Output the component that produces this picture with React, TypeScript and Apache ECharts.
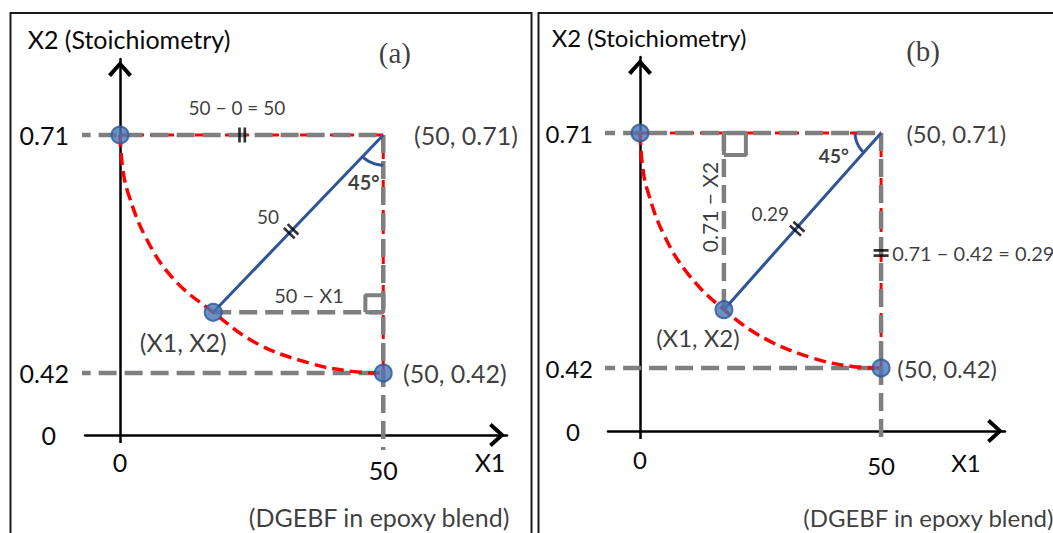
import React, { useEffect, useRef } from 'react';
import * as echarts from 'echarts';

// ---------------- data ----------------
const X_TICKS = [0, 50];
const Y_TICKS = [0.42, 0.71];
const START: [number, number] = [0, 0.71];
const CORNER: [number, number] = [50, 0.71];
const END: [number, number] = [50, 0.42];
const PT_A: [number, number] = [17.7, 0.494];
const PT_B: [number, number] = [17.4, 0.492];

// dashed red arc
const ARC_A = [[0, 0.71], [0.5, 0.67], [1.5, 0.64], [4.9, 0.585], [10.1, 0.535], [17.7, 0.494], [26, 0.456], [36, 0.432], [44, 0.422], [50, 0.42]];
const ARC_B = [[0, 0.71], [0.5, 0.67], [1.5, 0.64], [4.9, 0.585], [10.1, 0.535], [17.4, 0.492], [26, 0.456], [36, 0.432], [44, 0.422], [50, 0.42]];

// 45° angle marks
const ANGLE_A = [[46.05, 0.6837], [46.9, 0.6793], [47.87, 0.6761], [48.91, 0.6741], [50, 0.6734]];
const ANGLE_B = [[44.61, 0.71], [44.73, 0.7033], [45.08, 0.697], [45.64, 0.6911], [46.42, 0.686]];

// gray guide lines
const GUIDE_TOP_A = [[-9.0, 0.71], [50, 0.71]];
const GUIDE_LOW_A = [[-9.0, 0.42], [50, 0.42]];
const GUIDE_RIGHT_A = [[50, 0.71], [50, 0.3262]];
const GUIDE_MID_A = [[17.7, 0.494], [50, 0.494]];
const SQUARE_A = [[46.6, 0.494], [46.6, 0.5147], [50, 0.5147], [50, 0.494], [46.6, 0.494]];

const GUIDE_TOP_B = [[-8.9, 0.71], [50, 0.71]];
const GUIDE_LOW_B = [[-8.9, 0.42], [50, 0.42]];
const GUIDE_RIGHT_B = [[50, 0.71], [50, 0.325]];
const GUIDE_MID_B = [[17.4, 0.71], [17.4, 0.492]];
const SQUARE_B = [[17.4, 0.6828], [21.96, 0.6828], [21.96, 0.71], [17.4, 0.71], [17.4, 0.6828]];

// equal-length marks: [x, y, rotation]
const MARKS_A = [[23.2, 0.71, 0], [32.5, 0.5927, 46]];
const MARKS_B = [[32.6, 0.592, 48], [50, 0.5619, 90]];

// texts
const Y_NAME = 'X2 (Stoichiometry)';
const X_NAME = 'X1';
const LABELS_A = ['50 − 0 = 50', '(50, 0.71)', '45°', '50', '50 − X1', '(X1, X2)', '(50, 0.42)', '(DGEBF in epoxy blend)', '(a)'];
const LABELS_B = ['(b)', '(50, 0.71)', '45°', '0.71 − X2', '0.29', '0.71 − 0.42 = 0.29', '(X1, X2)', '(50, 0.42)', '(DGEBF in epoxy blend)'];

// axis ranges
const AX_A = { xMin: -6.65, xMax: 73.5, yMin: 0.3445, yMax: 0.8026 };
const AX_B = { xMin: -6.64, xMax: 75.7, yMin: 0.3423, yMax: 0.8038 };

// ---------------- styles ----------------
const FONT = 'Lato, "Open Sans", sans-serif';
const SERIF = '"Liberation Serif", "DejaVu Serif", serif';
const TXT = '#0a0a0a';
const GRAY = '#7f7f7f';
const RED = '#ff0000';
const BLUE = '#2f5597';
const CHEVRON = 'path://M10,0L20,11L17.4,13.2L10,4.8L2.6,13.2L0,11Z';
const BARS = 'path://M0,0H3V16H0ZM6,0H9V16H6Z';

function line(gi: number, data: number[][], color: string, width: number, dash: any, z: number, smooth: any = false) {
  return {
    type: 'line', xAxisIndex: gi, yAxisIndex: gi, data, symbol: 'none', clip: false, silent: true,
    smooth, z, animation: false,
    lineStyle: { color, width, type: dash, cap: 'butt' },
  };
}

function texts(gi: number, items: any[]) {
  return {
    type: 'scatter', xAxisIndex: gi, yAxisIndex: gi, clip: false, silent: true, z: 20,
    symbolSize: 1, itemStyle: { color: 'rgba(0,0,0,0)' },
    data: items.map((it) => ({
      value: it.at,
      label: {
        show: true, position: 'inside', formatter: it.t, color: TXT,
        fontFamily: it.serif ? SERIF : FONT, fontSize: it.fs, fontWeight: it.bold ? 'bold' : 'normal',
        align: it.align || 'center', verticalAlign: 'middle', rotate: it.rotate || 0,
      },
    })),
  };
}

function marks(gi: number, data: number[][]) {
  return {
    type: 'scatter', xAxisIndex: gi, yAxisIndex: gi, clip: false, silent: true, z: 15,
    symbol: BARS,
    data: data.map((m) => ({ value: [m[0], m[1]], symbolRotate: m[2] })),
    symbolSize: [8, 15],
    itemStyle: { color: '#000' },
  };
}

function points(gi: number, pt: number[]) {
  return {
    type: 'scatter', xAxisIndex: gi, yAxisIndex: gi, clip: false, silent: true, z: 16,
    data: [START, pt, END], symbolSize: 17,
    itemStyle: { color: '#4a76b4', borderColor: '#2f5597', borderWidth: 2 },
  };
}

function xAxis(gi: number, ax: any, margin: number, pad50: number) {
  return {
    type: 'value', gridIndex: gi, min: ax.xMin, max: ax.xMax,
    name: X_NAME, nameLocation: 'end', nameGap: gi === 0 ? -17 : -39,
    nameTextStyle: { fontFamily: FONT, fontSize: gi === 0 ? 25 : 24, color: TXT, align: 'center', verticalAlign: 'top', padding: [gi === 0 ? 14 : 19, 0, 0, 0] },
    axisLine: { onZero: false, lineStyle: { color: '#000', width: 2.5 }, symbol: ['none', CHEVRON], symbolSize: [24, 20], symbolOffset: [0, -10] },
    axisTick: { show: true, customValues: [0], length: 8, lineStyle: { color: '#000', width: 2.5 } },
    axisLabel: {
      customValues: X_TICKS, margin, fontFamily: FONT, fontSize: gi === 0 ? 25 : 24, color: TXT,
      formatter: (v: number) => (v === 50 ? '{b|50}' : '{a|' + v + '}'),
      rich: { a: {}, b: { padding: [pad50, 0, 0, 0] } },
    },
    splitLine: { show: false },
  };
}

function yAxis(gi: number, ax: any, margin: number) {
  return {
    type: 'value', gridIndex: gi, min: ax.yMin, max: ax.yMax,
    name: Y_NAME, nameLocation: 'end', nameGap: 8,
    nameTextStyle: { fontFamily: FONT, fontSize: gi === 0 ? 25 : 24, color: TXT, align: 'center', verticalAlign: 'bottom', padding: [0, 0, 0, 18] },
    axisLine: { onZero: true, lineStyle: { color: '#000', width: 2.5 }, symbol: ['none', CHEVRON], symbolSize: [24, 20], symbolOffset: [0, -10] },
    axisTick: { show: false },
    axisLabel: {
      customValues: [ax.yMin, ...Y_TICKS], margin, fontFamily: FONT, fontSize: gi === 0 ? 25 : 24, color: TXT,
      formatter: (v: number) => (Math.abs(v - ax.yMin) < 1e-6 ? '{z|0}' : '{n|' + v.toFixed(2) + '}'),
      rich: { z: { padding: [0, 13, 0, 0] }, n: {} },
    },
    splitLine: { show: false },
  };
}

export default function App() {
  const ref = useRef<HTMLDivElement>(null);
  useEffect(() => {
    if (!ref.current) return;
    const chart = echarts.init(ref.current, undefined, { renderer: 'svg' });
    const dashG = [18, 8];
    const dashR = [9, 6];
    const dashArc = [12, 6];
    const textA = [
      { t: LABELS_A[0], at: [22.2, 0.7441], fs: 19 },
      { t: LABELS_A[1], at: [65.7, 0.71], fs: 25 },
      { t: LABELS_A[2], at: [46.3, 0.6527], fs: 20, bold: true },
      { t: LABELS_A[3], at: [28.1, 0.6113], fs: 19 },
      { t: LABELS_A[4], at: [35.9, 0.515], fs: 20 },
      { t: LABELS_A[5], at: [12.0, 0.4578], fs: 25 },
      { t: LABELS_A[6], at: [63.6, 0.42], fs: 25 },
      { t: LABELS_A[7], at: [49.2, 0.2445], fs: 25 },
      { t: LABELS_A[8], at: [52.2, 0.8099], fs: 29, serif: true },
    ];
    const textB = [
      { t: LABELS_B[0], at: [58.7, 0.8112], fs: 29, serif: true },
      { t: LABELS_B[1], at: [65.6, 0.71], fs: 24 },
      { t: LABELS_B[2], at: [40.2, 0.6828], fs: 19, bold: true },
      { t: LABELS_B[3], at: [14.5, 0.6187], fs: 21, rotate: 90 },
      { t: LABELS_B[4], at: [27.0, 0.6113], fs: 19 },
      { t: LABELS_B[5], at: [52.3, 0.5619], fs: 20, align: 'left' },
      { t: LABELS_B[6], at: [12.0, 0.4582], fs: 24 },
      { t: LABELS_B[7], at: [63.7, 0.42], fs: 24 },
      { t: LABELS_B[8], at: [59.8, 0.2361], fs: 24 },
    ];
    const series: any[] = [];
    [0, 1].forEach((gi) => {
      const A = gi === 0;
      series.push(line(gi, [START, CORNER], RED, 3, dashR, 2));
      series.push(line(gi, [CORNER, END], RED, 3, dashR, 2));
      series.push(line(gi, A ? GUIDE_TOP_A : GUIDE_TOP_B, GRAY, 4.5, dashG, 3));
      series.push(line(gi, A ? GUIDE_LOW_A : GUIDE_LOW_B, GRAY, 4.5, dashG, 3));
      series.push(line(gi, A ? GUIDE_RIGHT_A : GUIDE_RIGHT_B, GRAY, 4.5, dashG, 3));
      series.push(line(gi, A ? GUIDE_MID_A : GUIDE_MID_B, GRAY, 4.5, dashG, 3));
      series.push(line(gi, A ? SQUARE_A : SQUARE_B, GRAY, 4, 'solid', 4));
      series.push(line(gi, A ? ARC_A : ARC_B, RED, 3.5, dashArc, 5, 0.4));
      series.push(line(gi, [A ? PT_A : PT_B, CORNER], BLUE, 3, 'solid', 6));
      series.push(line(gi, A ? ANGLE_A : ANGLE_B, BLUE, 3, 'solid', 6, true));
      series.push(marks(gi, A ? MARKS_A : MARKS_B));
      series.push(points(gi, A ? PT_A : PT_B));
      series.push(texts(gi, A ? textA : textB));
    });
    chart.setOption({
      animation: false,
      backgroundColor: '#fff',
      grid: [
        { left: 85, top: 59, width: 422, height: 376, outerBoundsMode: 'none', containLabel: false },
        { left: 608, top: 57, width: 397, height: 374, outerBoundsMode: 'none', containLabel: false },
      ],
      xAxis: [xAxis(0, AX_A, 14, 8), xAxis(1, AX_B, 16, 6)],
      yAxis: [yAxis(0, AX_A, 16), yAxis(1, AX_B, 15)],
      graphic: [
        { type: 'rect', shape: { x: 10.5, y: 13, width: 521, height: 540 }, style: { fill: 'none', stroke: '#1a1a1a', lineWidth: 2 }, silent: true },
        { type: 'rect', shape: { x: 538.5, y: 13, width: 530, height: 540 }, style: { fill: 'none', stroke: '#1a1a1a', lineWidth: 2 }, silent: true },
      ],
      series,
    });
    return () => chart.dispose();
  }, []);
  return <div ref={ref} style={{ position: 'absolute', left: 0, top: 0, width: 1053, height: 533, background: '#fff' }} />;
}
